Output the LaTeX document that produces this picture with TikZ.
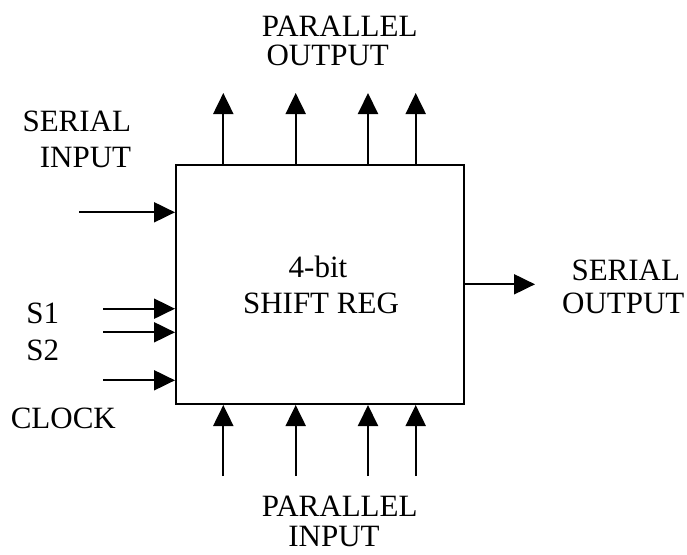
\documentclass[tikz,border=0pt]{standalone}
\usepackage{fontspec}
\setmainfont{Liberation Serif}
\usetikzlibrary{arrows.meta}
\begin{document}
\begin{tikzpicture}[x=1pt,y=-1pt,
  lbl/.style={anchor=base,inner sep=0pt,font=\fontsize{31}{37}\selectfont},
  arr/.style={line width=2pt,-{Triangle[length=21pt,width=20pt]}},
  regbox/.style={draw,line width=2pt,minimum width=288pt,minimum height=239pt,inner sep=0pt}]
\useasboundingbox (0,0) rectangle (687,554);
\node[regbox] (reg) at (320,284.5) {};
% texts
\node[lbl] (t1) at (76.8,131) {SERIAL};
\node[lbl] (t2) at (85.5,167) {INPUT};
\node[lbl] (t3) at (339.7,36) {PARALLEL};
\node[lbl] (t4) at (327.7,65.5) {OUTPUT};
\node[lbl] (t5) at (318,277) {4-bit};
\node[lbl] (t6) at (321,313) {SHIFT REG};
\node[lbl] (t7) at (42.8,323) {S1};
\node[lbl] (t8) at (42.8,360) {S2};
\node[lbl] (t9) at (63.3,428) {CLOCK};
\node[lbl] (t10) at (625.8,280) {SERIAL};
\node[lbl] (t11) at (623.3,313.3) {OUTPUT};
\node[lbl] (t12) at (339.7,516) {PARALLEL};
\node[lbl] (t13) at (334,546.7) {INPUT};
% connector free ends
\coordinate (po1) at (223.3,93);
\coordinate (po2) at (295.7,93);
\coordinate (po3) at (368,93);
\coordinate (po4) at (415.7,93);
\coordinate (pi1) at (223.3,476);
\coordinate (pi2) at (295.7,476);
\coordinate (pi3) at (368,476);
\coordinate (pi4) at (415.7,476);
\coordinate (si) at (79,212.3);
\coordinate (s1) at (103,308.7);
\coordinate (s2) at (103,332.3);
\coordinate (ck) at (103,380.3);
\coordinate (so) at (535,284.3);
% arrows
\foreach \p in {po1,po2,po3,po4} \draw[arr] (reg.north -| \p) -- (\p);
\foreach \p in {pi1,pi2,pi3,pi4} \draw[arr] (\p) -- (reg.south -| \p);
\foreach \p in {si,s1,s2,ck} \draw[arr] (\p) -- (reg.west |- \p);
\draw[arr] (reg.east |- so) -- (so);
\end{tikzpicture}
\end{document}
